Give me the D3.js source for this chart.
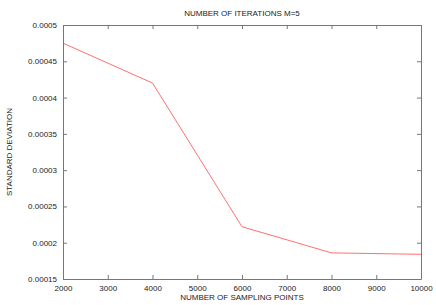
<!DOCTYPE html>
<html>
<head>
<meta charset="utf-8">
<script src="https://cdn.jsdelivr.net/npm/d3@7"></script>
<style>
  body { margin: 0; background: #fff; }
  text { font-family: "Liberation Sans", Arial, sans-serif; font-size: 8px; fill: #222; }
</style>
</head>
<body>
<script>
// chart data
const samplingPoints = [2000, 4000, 6000, 8000, 10000];
const stdDeviation = [0.000475, 0.00042, 0.000222, 0.000186, 0.000184];
const xTicks = [2000, 3000, 4000, 5000, 6000, 7000, 8000, 9000, 10000];
const yTicks = [0.00015, 0.0002, 0.00025, 0.0003, 0.00035, 0.0004, 0.00045, 0.0005];

const width = 436, height = 305;
const margin = { top: 25, right: 15, bottom: 26, left: 63 };

const svg = d3.select("body").append("svg")
    .attr("width", width)
    .attr("height", height);

const x = d3.scaleLinear().domain([2000, 10000]).range([margin.left, width - margin.right]);
const y = d3.scaleLinear().domain([0.00015, 0.0005]).range([height - margin.bottom, margin.top]);

const axisColor = "#777";
const fmtY = d => String(+d.toPrecision(2));

// bottom axis, ticks inward
const gx = svg.append("g")
    .attr("transform", `translate(0,${height - margin.bottom})`)
    .call(d3.axisBottom(x).tickValues(xTicks).tickFormat(d3.format("d")).tickSize(-4).tickSizeOuter(0).tickPadding(6));

// top axis, ticks only
const gxTop = svg.append("g")
    .attr("transform", `translate(0,${margin.top})`)
    .call(d3.axisTop(x).tickValues(xTicks).tickFormat("").tickSize(-4).tickSizeOuter(0));

// left axis
const gy = svg.append("g")
    .attr("transform", `translate(${margin.left},0)`)
    .call(d3.axisLeft(y).tickValues(yTicks).tickFormat(fmtY).tickSize(-4).tickSizeOuter(0).tickPadding(6));

// right axis, ticks only
const gyRight = svg.append("g")
    .attr("transform", `translate(${width - margin.right},0)`)
    .call(d3.axisRight(y).tickValues(yTicks).tickFormat("").tickSize(-4).tickSizeOuter(0));

[gx, gxTop, gy, gyRight].forEach(g => {
    g.selectAll(".domain, .tick line").attr("stroke", axisColor).attr("stroke-width", 1);
    g.selectAll("text").style("font-family", "'Liberation Sans', Arial, sans-serif").style("font-size", "8px").attr("fill", "#222");
});

// data line
const line = d3.line()
    .x((d, i) => x(samplingPoints[i]))
    .y(d => y(d));

svg.append("path")
    .datum(stdDeviation)
    .attr("fill", "none")
    .attr("stroke", "#ff3030")
    .attr("stroke-width", 0.7)
    .attr("d", line);

// title and labels
svg.append("text")
    .attr("x", (margin.left + width - margin.right) / 2)
    .attr("y", 16)
    .attr("text-anchor", "middle")
    .text("NUMBER OF ITERATIONS M=5");

svg.append("text")
    .attr("x", (margin.left + width - margin.right) / 2)
    .attr("y", 300)
    .attr("text-anchor", "middle")
    .text("NUMBER OF SAMPLING POINTS");

svg.append("text")
    .attr("transform", `translate(12,${(margin.top + height - margin.bottom) / 2}) rotate(-90)`)
    .attr("text-anchor", "middle")
    .text("STANDARD DEVIATION");
</script>
</body>
</html>
